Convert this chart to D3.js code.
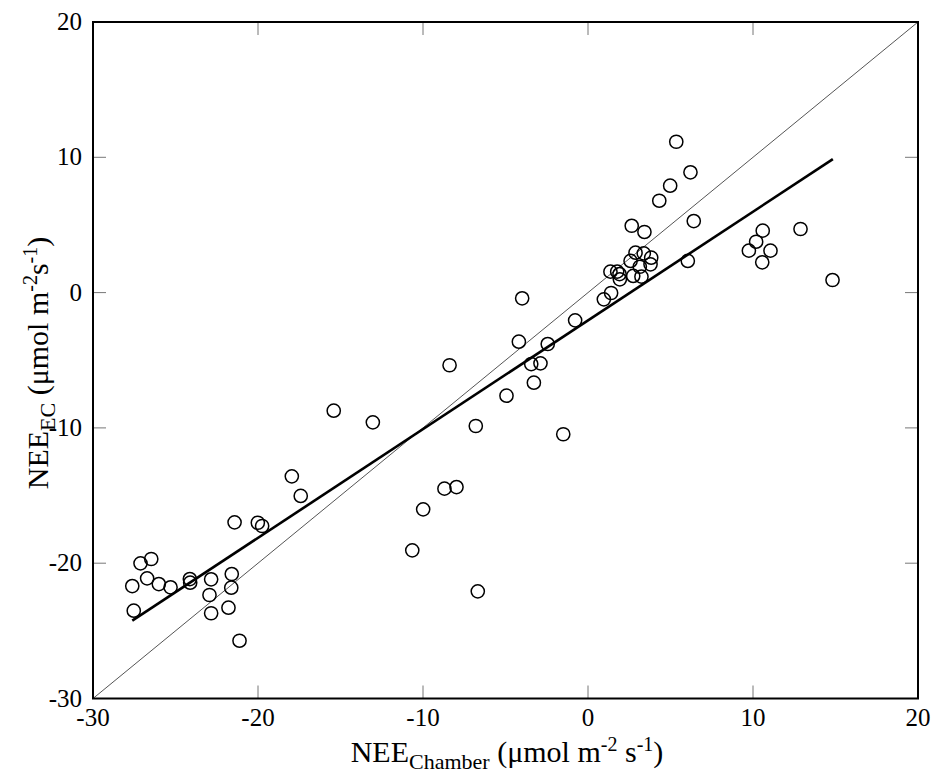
<!DOCTYPE html>
<html><head><meta charset="utf-8">
<script src="https://cdn.jsdelivr.net/npm/d3@7"></script>
<style>body{margin:0;background:#fff}svg{display:block}</style>
</head><body>
<svg id="c" width="937" height="773"></svg>
<script>
const xChamber = [-27.62,-27.53,-27.12,-26.47,-26.72,-26.01,-25.30,-24.13,-24.11,-22.84,-22.94,-22.84,-21.59,-21.62,-21.79,-21.12,-21.42,-20.01,-19.75,
  -15.41,-13.04,-6.80,-17.95,-17.41,-8.70,-7.97,-9.99,-10.65,-6.68,
  -3.99,-4.19,-2.44,-0.78,-8.39,-3.44,-2.88,-3.28,-4.94,-1.50,0.96,1.40,
  5.35,6.21,4.98,4.32,2.65,3.42,6.41,6.05,2.88,3.38,3.83,2.58,3.79,3.14,2.74,3.24,1.36,1.77,1.91,1.93,
  10.59,10.19,9.75,11.06,10.56,12.88,14.82];
const yEC = [-21.69,-23.51,-20.01,-19.69,-21.12,-21.54,-21.78,-21.17,-21.44,-21.19,-22.35,-23.70,-20.80,-21.81,-23.29,-25.73,-16.98,-17.01,-17.25,
  -8.73,-9.59,-9.86,-13.58,-15.03,-14.49,-14.37,-16.02,-19.05,-22.08,
  -0.42,-3.63,-3.80,-2.05,-5.37,-5.28,-5.23,-6.66,-7.62,-10.47,-0.50,-0.03,
  11.15,8.89,7.90,6.79,4.94,4.48,5.29,2.34,2.95,2.90,2.58,2.34,2.09,1.91,1.23,1.18,1.55,1.55,1.37,0.98,
  4.58,3.76,3.10,3.10,2.24,4.70,0.93];
const fitX = [-27.62, 14.84];
const fitY = [-24.25, 9.87];
const oneToOne = [-30, 20];
const xTicks = [-30,-20,-10,0,10,20];
const yTicks = [-30,-20,-10,0,10,20];

const L=93,R=918,T=22,B=698.5;
const svg=d3.select("#c");
const x=d3.scaleLinear().domain([-30,20]).range([L,R]);
const y=d3.scaleLinear().domain([-30,20]).range([B,T]);
const font="'Liberation Serif','Times New Roman',serif";

// inner ticks on all four sides
const tickG=svg.append("g").attr("stroke","#777").attr("stroke-width",1);
xTicks.slice(1,-1).forEach(t=>{
  tickG.append("line").attr("x1",x(t)).attr("x2",x(t)).attr("y1",B).attr("y2",B-13);
  tickG.append("line").attr("x1",x(t)).attr("x2",x(t)).attr("y1",T).attr("y2",T+13);
});
yTicks.slice(1,-1).forEach(t=>{
  tickG.append("line").attr("y1",y(t)).attr("y2",y(t)).attr("x1",L).attr("x2",L+13);
  tickG.append("line").attr("y1",y(t)).attr("y2",y(t)).attr("x1",R).attr("x2",R-13);
});

// 1:1 line
svg.append("line").attr("x1",x(oneToOne[0])).attr("y1",y(oneToOne[0]))
  .attr("x2",x(oneToOne[1])).attr("y2",y(oneToOne[1]))
  .attr("stroke","#555").attr("stroke-width",1);
// regression
svg.append("line").attr("x1",x(fitX[0])).attr("y1",y(fitY[0]))
  .attr("x2",x(fitX[1])).attr("y2",y(fitY[1]))
  .attr("stroke","#000").attr("stroke-width",2.6);

// points
svg.append("g").selectAll("circle").data(xChamber.map((v,i)=>[v,yEC[i]])).join("circle")
  .attr("cx",d=>x(d[0])).attr("cy",d=>y(d[1])).attr("r",6.6)
  .attr("fill","none").attr("stroke","#000").attr("stroke-width",1.5);

// frame
svg.append("rect").attr("x",L).attr("y",T).attr("width",R-L).attr("height",B-T)
  .attr("fill","none").attr("stroke","#000").attr("stroke-width",2);

// tick labels
svg.append("g").selectAll("text").data(xTicks).join("text")
  .attr("x",d=>x(d)).attr("y",B+27).attr("text-anchor","middle")
  .attr("font-family",font).attr("font-size",25).text(d=>d);
svg.append("g").selectAll("text").data(yTicks).join("text")
  .attr("x",L-11).attr("y",d=>y(d)+8).attr("text-anchor","end")
  .attr("font-family",font).attr("font-size",25).text(d=>d);

// x title
const xt=svg.append("text").attr("x",507).attr("y",762).attr("text-anchor","middle")
  .attr("font-family",font).attr("font-size",30);
xt.append("tspan").text("NEE");
xt.append("tspan").attr("dy",7).attr("font-size",22).text("Chamber");
xt.append("tspan").attr("dy",-7).text(" (μmol m");
xt.append("tspan").attr("dy",-11).attr("font-size",20).text("-2");
xt.append("tspan").attr("dy",11).text(" s");
xt.append("tspan").attr("dy",-11).attr("font-size",20).text("-1");
xt.append("tspan").attr("dy",11).text(")");

// y title
const yt=svg.append("text").attr("transform","translate(48,363) rotate(-90)").attr("text-anchor","middle")
  .attr("font-family",font).attr("font-size",30);
yt.append("tspan").text("NEE");
yt.append("tspan").attr("dy",7).attr("font-size",22).text("EC");
yt.append("tspan").attr("dy",-7).text(" (μmol m");
yt.append("tspan").attr("dy",-11).attr("font-size",20).text("-2");
yt.append("tspan").attr("dy",11).text("s");
yt.append("tspan").attr("dy",-11).attr("font-size",20).text("-1");
yt.append("tspan").attr("dy",11).text(")");
</script>
</body></html>
